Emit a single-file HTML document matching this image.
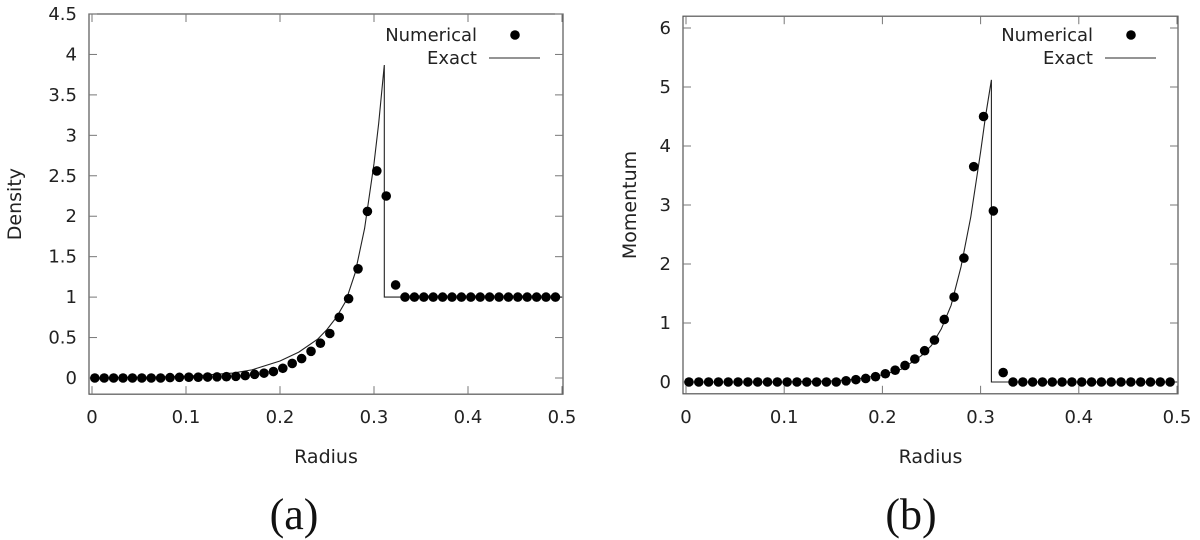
<!DOCTYPE html>
<html><head><meta charset="utf-8"><style>
body{margin:0;background:#fff;}
svg{display:block;font-family:"DejaVu Sans","Liberation Sans",sans-serif;}
</style></head><body>
<svg id="c" width="1200" height="540"></svg>
<script>
const radiusDots = Array.from({length:50},(_,i)=>0.003+0.01*i);
const densityDots = [0,0,0,0,0,0,0,0,0.005,0.008,0.01,0.01,0.012,0.014,0.016,0.02,0.03,0.045,0.06,0.08,0.12,0.18,0.24,0.33,0.43,0.55,0.75,0.98,1.35,2.06,2.56,2.25,1.15,1,1,1,1,1,1,1,1,1,1,1,1,1,1,1,1,1];
const momentumDots = [0,0,0,0,0,0,0,0,0,0,0,0,0,0,0,0,0.02,0.04,0.06,0.09,0.14,0.2,0.28,0.39,0.53,0.71,1.06,1.44,2.1,3.65,4.5,2.9,0.16,0,0,0,0,0,0,0,0,0,0,0,0,0,0,0,0,0];
const exactX = [0,0.1,0.15,0.17,0.2,0.22,0.24,0.25,0.26,0.27,0.28,0.29,0.3,0.305,0.311,0.311,0.5];
const densityExact = [0,0.02,0.06,0.1,0.21,0.32,0.48,0.6,0.75,0.95,1.3,1.85,2.65,3.15,3.87,1,1];
const momentumExact = [0,0,0.02,0.04,0.12,0.22,0.45,0.62,0.9,1.3,1.95,2.8,3.9,4.5,5.12,0,0];
const densityTicks = [0,0.5,1,1.5,2,2.5,3,3.5,4,4.5];
const momentumTicks = [0,1,2,3,4,5,6];
const xTicks = [0,0.1,0.2,0.3,0.4,0.5];

const NS="http://www.w3.org/2000/svg";
const svg=document.getElementById('c');
function mk(tag,attrs,parent){const e=document.createElementNS(NS,tag);for(const k in attrs)e.setAttribute(k,attrs[k]);(parent||svg).appendChild(e);return e;}

function panel(o){
  const g=mk('g',{});
  
  
  const X=v=>o.x0+(v-0)/(0.5)*(o.x1-o.x0);
  const Y=v=>o.y0-(v-0)*(o.y0-o.yTop)/(o.ymaxTick);
  const L=o.left,R=o.right,T=Y(o.ymax),B=Y(o.ymin);
  const box=mk('rect',{x:L,y:T,width:R-L,height:B-T,fill:'none',stroke:'#555','stroke-width':1.2},g);
  
  
  o.yTicks.forEach(v=>{
    const y=Y(v);
    mk('line',{x1:L,x2:L+8,y1:y,y2:y,stroke:'#777'},g);
    mk('line',{x1:R,x2:R-8,y1:y,y2:y,stroke:'#777'},g);
    const t=mk('text',{x:L-12,y:y+6,'text-anchor':'end','font-size':18,fill:'#222'},g);
    t.textContent=v;
    
    
  });
  xTicks.forEach(v=>{
    const x=X(v);
    mk('line',{x1:x,x2:x,y1:B,y2:B-8,stroke:'#777'},g);
    mk('line',{x1:x,x2:x,y1:T,y2:T+8,stroke:'#777'},g);
    const t=mk('text',{x:x,y:B+29,'text-anchor':'middle','font-size':18,fill:'#222'},g);
    t.textContent=v;
    
    
  });
  const xl=mk('text',{x:(L+R)/2,y:463,'text-anchor':'middle','font-size':19,fill:'#222'},g);
  xl.textContent='Radius';
  
  
  const yl=mk('text',{x:0,y:0,'text-anchor':'middle','font-size':19,fill:'#222',transform:`translate(${o.ylx},${(T+B)/2}) rotate(-90)`},g);
  yl.textContent=o.ylabel;
  
  
  let d='';exactX.forEach((x,i)=>{d+=(i?'L':'M')+X(x).toFixed(1)+','+Y(o.exact[i]).toFixed(1);});
  const p=mk('path',{d:d,fill:'none',stroke:'#222','stroke-width':1.1},g);
  
  
  radiusDots.forEach((x,i)=>{
    const c=mk('circle',{cx:X(x),cy:Y(o.dots[i]),r:4.8,fill:'#000'},g);
    
    
  });
  const lg=mk('g',{},g);
  
  
  const t1=mk('text',{x:o.legX,y:41,'text-anchor':'end','font-size':18,fill:'#222'},lg);t1.textContent='Numerical';
  
  
  mk('circle',{cx:o.legX+38,cy:35,r:4.8,fill:'#000'},lg);
  const t2=mk('text',{x:o.legX,y:64,'text-anchor':'end','font-size':18,fill:'#222'},lg);t2.textContent='Exact';
  
  
  mk('line',{x1:o.legX+12,x2:o.legX+63,y1:58,y2:58,stroke:'#555','stroke-width':1.2},lg);
  const cap=mk('text',{x:o.capX,y:529,'text-anchor':'middle','font-size':44,fill:'#111','font-family':'"Liberation Serif",serif'},g);
  cap.textContent=o.cap;
  
  
}
panel({name:'density-panel',x0:92,x1:562,left:89,right:563,y0:378,yTop:14,ymaxTick:4.5,ymin:-0.2,ymax:4.5,yTicks:densityTicks,ylabel:'Density',ylx:21,dots:densityDots,exact:densityExact,legX:477,capX:294,cap:'(a)'});
panel({name:'momentum-panel',x0:686,x1:1177,left:683,right:1178,y0:382,yTop:28,ymaxTick:6,ymin:-0.2,ymax:6.2,yTicks:momentumTicks,ylabel:'Momentum',ylx:636,dots:momentumDots,exact:momentumExact,legX:1093,capX:911,cap:'(b)'});
</script>
</body></html>
